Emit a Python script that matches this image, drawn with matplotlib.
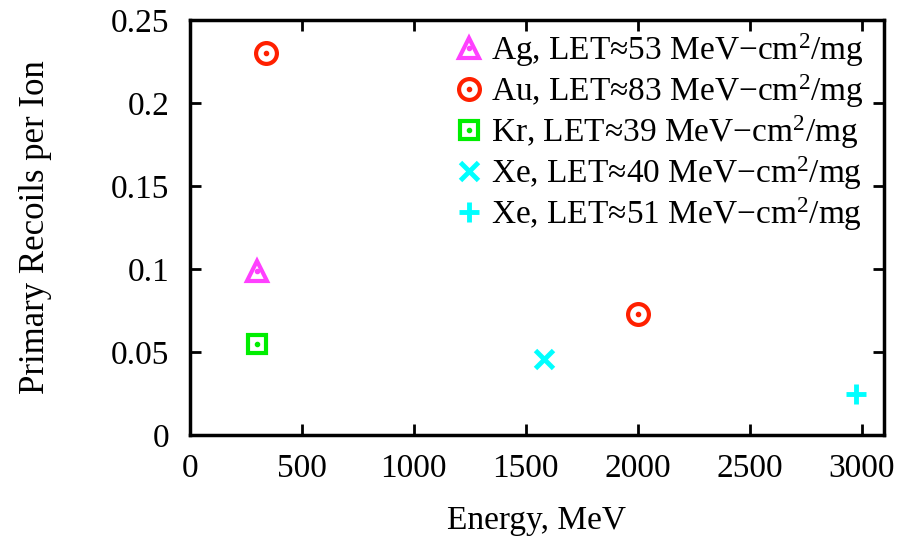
import matplotlib
matplotlib.use("Agg")
import matplotlib.pyplot as plt
from matplotlib.legend_handler import HandlerTuple

plt.rcParams['font.family'] = ['Liberation Serif', 'DejaVu Serif']
plt.rcParams['mathtext.fontset'] = 'custom'
plt.rcParams['mathtext.rm'] = 'Liberation Serif'
plt.rcParams['mathtext.it'] = 'Liberation Serif'

# data
labels = ["Ag, LET\u224853 MeV\u2212cm$^2$/mg",
          "Au, LET\u224883 MeV\u2212cm$^2$/mg",
          "Kr, LET\u224839 MeV\u2212cm$^2$/mg",
          "Xe, LET\u224840 MeV\u2212cm$^2$/mg",
          "Xe, LET\u224851 MeV\u2212cm$^2$/mg"]
ag_energy = [300]
ag_recoils = [0.099]
au_energy = [340, 2000]
au_recoils = [0.230, 0.073]
kr_energy = [300]
kr_recoils = [0.055]
xe40_energy = [1580]
xe40_recoils = [0.046]
xe51_energy = [2975]
xe51_recoils = [0.025]

fig = plt.figure(figsize=(9.21, 5.4), dpi=100)
ax = fig.add_axes([0.2063, 0.1944, 0.7535, 0.7685])

magenta = '#ff40ff'
red = '#ff2000'
green = '#00ee00'
cyan = '#00ffff'

h1, = ax.plot(ag_energy, ag_recoils, ls='none', marker='^', ms=15, mfc='none', mec=magenta, mew=3)
d1, = ax.plot(ag_energy, ag_recoils, ls='none', marker='o', ms=3, color=magenta)
h2, = ax.plot(au_energy, au_recoils, ls='none', marker='o', ms=15, mfc='none', mec=red, mew=3)
d2, = ax.plot(au_energy, au_recoils, ls='none', marker='o', ms=3, color=red)
h3, = ax.plot(kr_energy, kr_recoils, ls='none', marker='s', ms=13, mfc='none', mec=green, mew=3)
d3, = ax.plot(kr_energy, kr_recoils, ls='none', marker='o', ms=3, color=green)
h4, = ax.plot(xe40_energy, xe40_recoils, ls='none', marker='x', ms=13, color=cyan, mew=3.5)
h5, = ax.plot(xe51_energy, xe51_recoils, ls='none', marker='+', ms=14, color=cyan, mew=3.5)

ax.set_xlim(0, 3100)
ax.set_ylim(0, 0.25)
ax.set_xticks([0, 500, 1000, 1500, 2000, 2500, 3000])
ax.set_yticks([0, 0.05, 0.1, 0.15, 0.2, 0.25])
ax.set_yticklabels(['0', '0.05', '0.1', '0.15', '0.2', '0.25'])
ax.tick_params(direction='in', length=8, width=2, labelsize=24,
               top=True, right=True)
ax.tick_params(axis='x', pad=13)
ax.tick_params(axis='y', pad=15)
for s in ax.spines.values():
    s.set_linewidth(2.5)

ax.set_xlabel('Energy, MeV', fontsize=24, labelpad=16)
ax.set_ylabel('Primary Recoils per Ion', fontsize=25, labelpad=42)

ax.legend([(h1, d1), (h2, d2), (h3, d3), h4, h5], labels,
          handler_map={tuple: HandlerTuple(ndivide=1)},
          loc='upper right', bbox_to_anchor=(0.99, 1.005), frameon=False,
          fontsize=24, handlelength=0.7, handletextpad=0.3,
          labelspacing=0.1, borderaxespad=0.0)

fig.savefig('out.png', dpi=100)
